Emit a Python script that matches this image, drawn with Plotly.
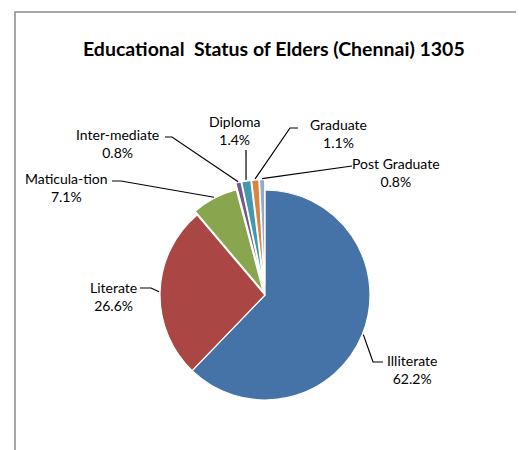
import numpy as np
import plotly.graph_objects as go

W, H = 524, 450
OFF = 8  # body margin of the html page

# data
categories = ["Illiterate", "Literate", "Maticula-tion", "Inter-mediate", "Diploma", "Graduate", "Post Graduate"]
percents = [62.2, 26.6, 7.1, 0.8, 1.4, 1.1, 0.8]
colors = ["#4572A7", "#AA4643", "#89A54E", "#71588F", "#4198AF", "#DB843D", "#93A9CF"]
pulls = [0, 0, 0.04, 0.1, 0.1, 0.1, 0.1]

# pie geometry (pixels, window coords)
cx, cy, r = 265, 295, 105
maxpull = max(pulls)
half = r*(1+maxpull)

def px(x):
	return (x-OFF)/W

def py(y):
	return 1 - (y-OFF)/H

fig = go.Figure()

fig.add_trace(go.Pie(
	labels = categories,
	values = percents,
	sort = False,
	direction = "clockwise",
	rotation = 0,
	pull = pulls,
	textinfo = "none",
	hoverinfo = "label+percent",
	marker = dict(colors=colors, line=dict(color="white", width=1.2)),
	domain = dict(x=[px(cx-half), px(cx+half)], y=[py(cy+half), py(cy-half)]),
	showlegend = False,
))

# label block centre and elbow points of the leader lines (pixels)
label_pos = [(412, 369), (113, 296), (66, 187), (117, 143), (234, 131), (338, 133), (396, 172)]
elbows = [
	[(383, 362), (373, 362)],
	[(140, 288), (151, 288)],
	[(112, 181), (121, 181)],
	[(165, 137), (172, 137)],
	[(246, 150)],
	[(298, 128), (290, 128)],
	[(352, 166)],
]

cum = np.cumsum([0]+percents)
shapes = []
annotations = []
for i, cat in enumerate(categories):
	mid = (cum[i] + percents[i]/2)/100*2*np.pi
	rr = r*(1+pulls[i]) + 1
	ex, ey = cx + rr*np.sin(mid), cy - rr*np.cos(mid)
	pts = elbows[i] + [(ex, ey)]
	path = "M " + " L ".join("{0:.4f},{1:.4f}".format(px(x), py(y)) for x, y in pts)
	shapes.append(dict(type="path", xref="paper", yref="paper", path=path,
		line=dict(color="black", width=1.2)))
	lx, ly = label_pos[i]
	annotations.append(dict(
		x=px(lx), y=py(ly), xref="paper", yref="paper",
		text="{0}<br>{1:.1f}%".format(cat, percents[i]),
		showarrow=False, align="center", xanchor="center", yanchor="middle",
		font=dict(family="Lato", size=14, color="black"),
	))

# chart frame
shapes.append(dict(type="rect", xref="paper", yref="paper",
	x0=px(15), y0=-0.1, x1=1.1, y1=py(12),
	line=dict(color="#8a8a8a", width=1.5)))

annotations.append(dict(
	x=px(274), y=py(48), xref="paper", yref="paper",
	text="<b>Educational  Status of Elders (Chennai) 1305</b>",
	showarrow=False, xanchor="center", yanchor="middle",
	font=dict(family="Lato", size=19.5, color="black"),
))

fig.update_layout(
	width=W, height=H,
	margin=dict(l=0, r=0, t=0, b=0),
	paper_bgcolor="white",
	plot_bgcolor="white",
	shapes=shapes,
	annotations=annotations,
)

fig.write_html("out.html")
